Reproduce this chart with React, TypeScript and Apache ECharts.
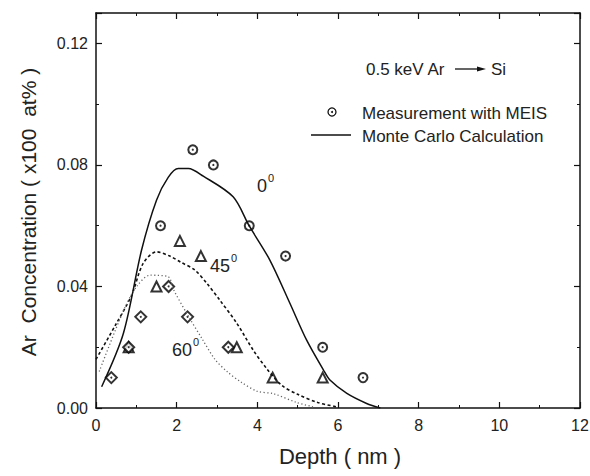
import React, { useEffect, useRef } from "react";
import * as echarts from "echarts";

// Measurement with MEIS
const circX = [2.40, 2.91, 1.60, 3.80, 4.70, 5.62, 6.62];
const circY = [0.085, 0.080, 0.060, 0.060, 0.050, 0.020, 0.010];
const triX = [0.81, 1.50, 2.08, 2.60, 3.49, 4.38, 5.62];
const triY = [0.020, 0.040, 0.055, 0.050, 0.020, 0.010, 0.010];
const diaX = [0.38, 0.81, 1.11, 1.80, 2.27, 3.28];
const diaY = [0.010, 0.020, 0.030, 0.040, 0.030, 0.020];

// Monte Carlo calculation
const mc0X = [0.14, 0.68, 1.13, 1.50, 1.79, 2.04, 2.29, 2.66, 3.40, 3.80, 4.31, 4.81, 5.22, 5.64, 5.80, 6.22, 6.71, 7.05];
const mc0Y = [0.0070, 0.0246, 0.052, 0.0684, 0.0759, 0.0788, 0.0788, 0.0763, 0.0695, 0.0599, 0.0487, 0.0344, 0.0224, 0.0125, 0.0092, 0.0048, 0.0015, 0.0];
const mc45X = [0.0, 0.47, 0.88, 1.17, 1.50, 1.83, 2.10, 2.45, 2.75, 3.07, 3.49, 3.90, 4.23, 4.60, 5.00, 5.50, 6.00];
const mc45Y = [0.016, 0.027, 0.037, 0.0476, 0.0514, 0.0500, 0.048, 0.0454, 0.041, 0.0355, 0.0279, 0.019, 0.013, 0.0075, 0.0045, 0.0018, 0.0003];
const mc60X = [0.08, 0.68, 1.01, 1.34, 1.79, 1.92, 2.30, 2.62, 2.95, 3.25, 3.60, 4.00, 4.40, 4.98, 5.38];
const mc60Y = [0.012, 0.032, 0.040, 0.0437, 0.0432, 0.039, 0.030, 0.023, 0.016, 0.012, 0.0085, 0.0055, 0.0047, 0.0018, 0.0004];

const xTicks = [0, 2, 4, 6, 8, 10, 12];
const yTicks = [0.0, 0.04, 0.08, 0.12];

const FONT = "'Liberation Sans', Arial, sans-serif";
const zip = (xs: number[], ys: number[]) => xs.map((x, i) => [x, ys[i]]);

export default function App() {
  const ref = useRef<HTMLDivElement>(null);
  useEffect(() => {
    if (!ref.current) return;
    const chart = echarts.init(ref.current, null, { renderer: "svg" });
    const axisCommon = {
      type: "value" as const,
      splitLine: { show: false },
      axisLine: { show: true, onZero: false, lineStyle: { color: "#111", width: 1.5 } },
      axisTick: { show: true, inside: true, length: 6, lineStyle: { color: "#111", width: 1.2 } },
      minorTick: { show: true, splitNumber: 2, length: 3, lineStyle: { color: "#111", width: 1 } },
    };
    const xAxisBase = { ...axisCommon, min: xTicks[0], max: xTicks[xTicks.length - 1], interval: xTicks[1] - xTicks[0] };
    const yStep = yTicks[1] - yTicks[0];
    const yAxisBase = { ...axisCommon, min: 0, max: 0.13, interval: yStep };
    chart.setOption({
      animation: false,
      grid: { left: 96, right: 10, top: 13, bottom: 68, outerBoundsMode: "none" },
      xAxis: [
        {
          ...xAxisBase,
          position: "bottom",
          axisLabel: { fontSize: 16, color: "#222", fontFamily: FONT, margin: 9 },
        },
        { ...xAxisBase, position: "top", axisLabel: { show: false } },
      ],
      yAxis: [
        {
          ...yAxisBase,
          position: "left",
          axisLabel: {
            fontSize: 16,
            color: "#222",
            fontFamily: FONT,
            margin: 8,
            formatter: (v: number) => {
              const r = v / yStep;
              return Math.abs(r - Math.round(r)) < 1e-6 ? v.toFixed(2) : "";
            },
          },
        },
        { ...yAxisBase, position: "right", axisLabel: { show: false } },
      ],
      series: [
        {
          name: "MC 0",
          type: "line",
          data: zip(mc0X, mc0Y),
          showSymbol: false,
          smooth: 0.3,
          lineStyle: { color: "#111", width: 1.5 },
        },
        {
          name: "MC 45",
          type: "line",
          data: zip(mc45X, mc45Y),
          showSymbol: false,
          smooth: 0.3,
          lineStyle: { color: "#111", width: 1.6, type: [3, 2.5] },
        },
        {
          name: "MC 60",
          type: "line",
          data: zip(mc60X, mc60Y),
          showSymbol: false,
          smooth: 0.3,
          lineStyle: { color: "#666", width: 1.3, type: [1.2, 2.4] },
        },
        {
          name: "MEIS 0",
          type: "scatter",
          data: zip(circX, circY),
          symbol: "emptyCircle",
          symbolSize: 9,
          itemStyle: { color: "#000", borderColor: "#000", borderWidth: 1.5 },
        },
        {
          name: "MEIS 0 dot",
          type: "scatter",
          data: zip(circX, circY),
          symbol: "circle",
          symbolSize: 2.2,
          itemStyle: { color: "#000" },
        },
        {
          name: "MEIS 45",
          type: "scatter",
          data: zip(triX, triY),
          symbol: "emptyTriangle",
          symbolSize: 10,
          itemStyle: { color: "#000", borderColor: "#000", borderWidth: 1.4 },
        },
        {
          name: "MEIS 60",
          type: "scatter",
          data: zip(diaX, diaY),
          symbol: "emptyDiamond",
          symbolSize: 11,
          itemStyle: { color: "#000", borderColor: "#000", borderWidth: 1.4 },
        },
        {
          name: "MEIS 60 dot",
          type: "scatter",
          data: zip(diaX, diaY),
          symbol: "circle",
          symbolSize: 2,
          itemStyle: { color: "#000" },
        },
      ],
      graphic: [
        // axis titles
        {
          type: "text",
          x: 28,
          y: 212,
          rotation: Math.PI / 2,
          style: {
            text: "Ar  Concentration ( x100  at% )",
            fontSize: 21,
            fontFamily: FONT,
            fill: "#222",
            align: "center",
            verticalAlign: "middle",
          },
        },
        {
          type: "text",
          x: 340,
          y: 456,
          style: {
            text: "Depth ( nm )",
            fontSize: 22,
            fontFamily: FONT,
            fill: "#222",
            align: "center",
            verticalAlign: "middle",
          },
        },
        // title line: 0.5 keV Ar -> Si
        {
          type: "text",
          x: 366,
          y: 69,
          style: { text: "0.5 keV Ar", fontSize: 17, fontFamily: FONT, fill: "#222", verticalAlign: "middle" },
        },
        { type: "line", shape: { x1: 455, y1: 69, x2: 479, y2: 69 }, style: { stroke: "#111", lineWidth: 1.3 } },
        { type: "polygon", shape: { points: [[477, 66.5], [486, 69], [477, 71.5]] }, style: { fill: "#111" } },
        {
          type: "text",
          x: 491,
          y: 69,
          style: { text: "Si", fontSize: 17, fontFamily: FONT, fill: "#222", verticalAlign: "middle" },
        },
        // legend
        { type: "circle", shape: { cx: 332, cy: 112, r: 4 }, style: { fill: "none", stroke: "#111", lineWidth: 1.3 } },
        { type: "circle", shape: { cx: 332, cy: 112, r: 1 }, style: { fill: "#111" } },
        {
          type: "text",
          x: 362,
          y: 113,
          style: { text: "Measurement with MEIS", fontSize: 17, fontFamily: FONT, fill: "#222", verticalAlign: "middle" },
        },
        { type: "line", shape: { x1: 311, y1: 135, x2: 351, y2: 135 }, style: { stroke: "#111", lineWidth: 1.3 } },
        {
          type: "text",
          x: 362,
          y: 136,
          style: { text: "Monte Carlo Calculation", fontSize: 17, fontFamily: FONT, fill: "#222", verticalAlign: "middle" },
        },
        // angle annotations
        { type: "text", x: 257, y: 186, style: { text: "0", fontSize: 18, fontFamily: FONT, fill: "#222", verticalAlign: "middle" } },
        { type: "text", x: 268, y: 178, style: { text: "0", fontSize: 11, fontFamily: FONT, fill: "#222", verticalAlign: "middle" } },
        { type: "text", x: 210, y: 266, style: { text: "45", fontSize: 18, fontFamily: FONT, fill: "#222", verticalAlign: "middle" } },
        { type: "text", x: 231, y: 258, style: { text: "0", fontSize: 11, fontFamily: FONT, fill: "#222", verticalAlign: "middle" } },
        { type: "text", x: 172, y: 350, style: { text: "60", fontSize: 18, fontFamily: FONT, fill: "#222", verticalAlign: "middle" } },
        { type: "text", x: 193, y: 342, style: { text: "0", fontSize: 11, fontFamily: FONT, fill: "#222", verticalAlign: "middle" } },
      ],
    });
    return () => chart.dispose();
  }, []);
  return <div ref={ref} style={{ position: "absolute", left: 0, top: 0, width: 590, height: 476 }} />;
}
